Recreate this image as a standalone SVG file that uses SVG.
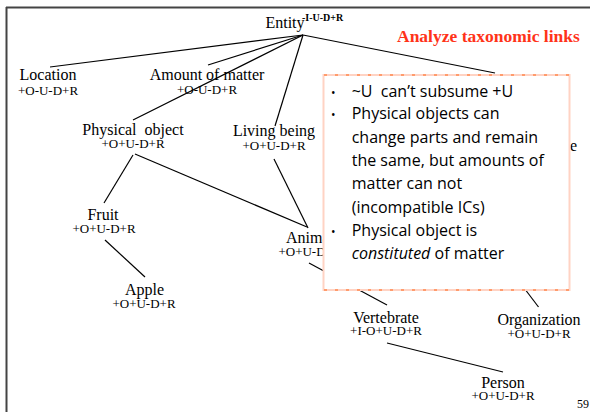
<svg xmlns="http://www.w3.org/2000/svg" width="590" height="412" viewBox="0 0 590 412">
<style>
.nm{font-family:"Liberation Serif",serif;font-size:16px;fill:#000;text-anchor:middle}
.cd{font-family:"Liberation Serif",serif;font-size:13px;fill:#000;text-anchor:middle}
.ln{stroke:#000;stroke-width:1.2;fill:none}
.bx{font-family:"Open Sans",sans-serif;font-size:16px;fill:#000}
</style>
<rect x="0" y="0" width="590" height="412" fill="#fff"/>
<g id="frame" stroke="#444" stroke-width="2">
<line x1="6" y1="7.5" x2="590" y2="7.5"/>
<line x1="6.5" y1="7" x2="6.5" y2="412"/>
</g>
<g id="connectors" class="ln">
<line x1="303" y1="35" x2="50" y2="67"/>
<line x1="303" y1="35" x2="208" y2="65"/>
<line x1="303" y1="35" x2="133" y2="120"/>
<line x1="303" y1="35" x2="275" y2="126"/>
<line x1="303" y1="35" x2="495" y2="73"/>
<line x1="133" y1="155" x2="104" y2="203"/>
<line x1="135" y1="154" x2="307" y2="227"/>
<line x1="274" y1="159" x2="308" y2="228"/>
<line x1="105" y1="240" x2="145" y2="277"/>
<line x1="309" y1="263" x2="387" y2="305"/>
<line x1="515" y1="276" x2="538.5" y2="307"/>
<line x1="387" y1="343" x2="503" y2="372"/>
</g>
<g id="entity">
<text class="nm" x="285" y="28">Entity</text>
<text x="302" y="21" font-family="Liberation Serif,serif" font-size="10" font-weight="bold">-I-U-D+R</text>
</g>
<g id="location"><text class="nm" x="48" y="80">Location</text><text class="cd" x="48" y="95">+O-U-D+R</text></g>
<g id="amount"><text class="nm" x="207" y="80">Amount of matter</text><text class="cd" x="207" y="94">+O-U-D+R</text></g>
<g id="physical"><text class="nm" x="133" y="135" xml:space="preserve">Physical  object</text><text class="cd" x="133" y="148">+O+U-D+R</text></g>
<g id="living"><text class="nm" x="274" y="136">Living being</text><text class="cd" x="274" y="150">+O+U-D+R</text></g>
<g id="hidden-e"><text x="570" y="151" font-family="Liberation Serif,serif" font-size="16">e</text></g>
<g id="fruit"><text class="nm" x="103" y="220">Fruit</text><text class="cd" x="104" y="233">+O+U-D+R</text></g>
<g id="animal"><text class="nm" x="310" y="243">Animal</text><text class="cd" x="310" y="256">+O+U-D+R</text></g>
<g id="apple"><text class="nm" x="144.5" y="295">Apple</text><text class="cd" x="144" y="308">+O+U-D+R</text></g>
<g id="vertebrate"><text class="nm" x="386" y="323">Vertebrate</text><text class="cd" x="386" y="335">+I-O+U-D+R</text></g>
<g id="organization"><text class="nm" x="539" y="325">Organization</text><text class="cd" x="539" y="338">+O+U-D+R</text></g>
<g id="person"><text class="nm" x="503" y="388">Person</text><text class="cd" x="503" y="400">+O+U-D+R</text></g>
<g id="title"><text x="397" y="42" font-family="Liberation Serif,serif" font-size="17.5" font-weight="bold" fill="#ff3319">Analyze taxonomic links</text></g>
<g id="note">
<rect x="323.5" y="75" width="246" height="215" fill="#fff" stroke="#ffd3c4" stroke-width="2"/>
<line x1="324" y1="75" x2="569" y2="75" stroke="#ff8a50" stroke-width="1.5" stroke-dasharray="3 8"/>
<line x1="324" y1="290" x2="569" y2="290" stroke="#ff8a50" stroke-width="1.5" stroke-dasharray="3 8"/>
<g class="bx">
<text x="331" y="96.7" font-size="12">•</text>
<text x="331" y="119.3" font-size="12">•</text>
<text x="331" y="236" font-size="12">•</text>
<text x="351.7" y="96.7" xml:space="preserve">~U  can’t subsume +U</text>
<text x="351.7" y="119.3">Physical objects can</text>
<text x="351.7" y="142.7">change parts and remain</text>
<text x="351.7" y="166">the same, but amounts of</text>
<text x="351.7" y="189.3">matter can not</text>
<text x="351.7" y="212.7">(incompatible ICs)</text>
<text x="351.7" y="236">Physical object is</text>
<text x="351.7" y="259.3"><tspan font-style="italic">constituted</tspan> of matter</text>
</g>
</g>
<g id="page"><text x="577" y="408" font-family="Liberation Serif,serif" font-size="12">59</text></g>
</svg>
